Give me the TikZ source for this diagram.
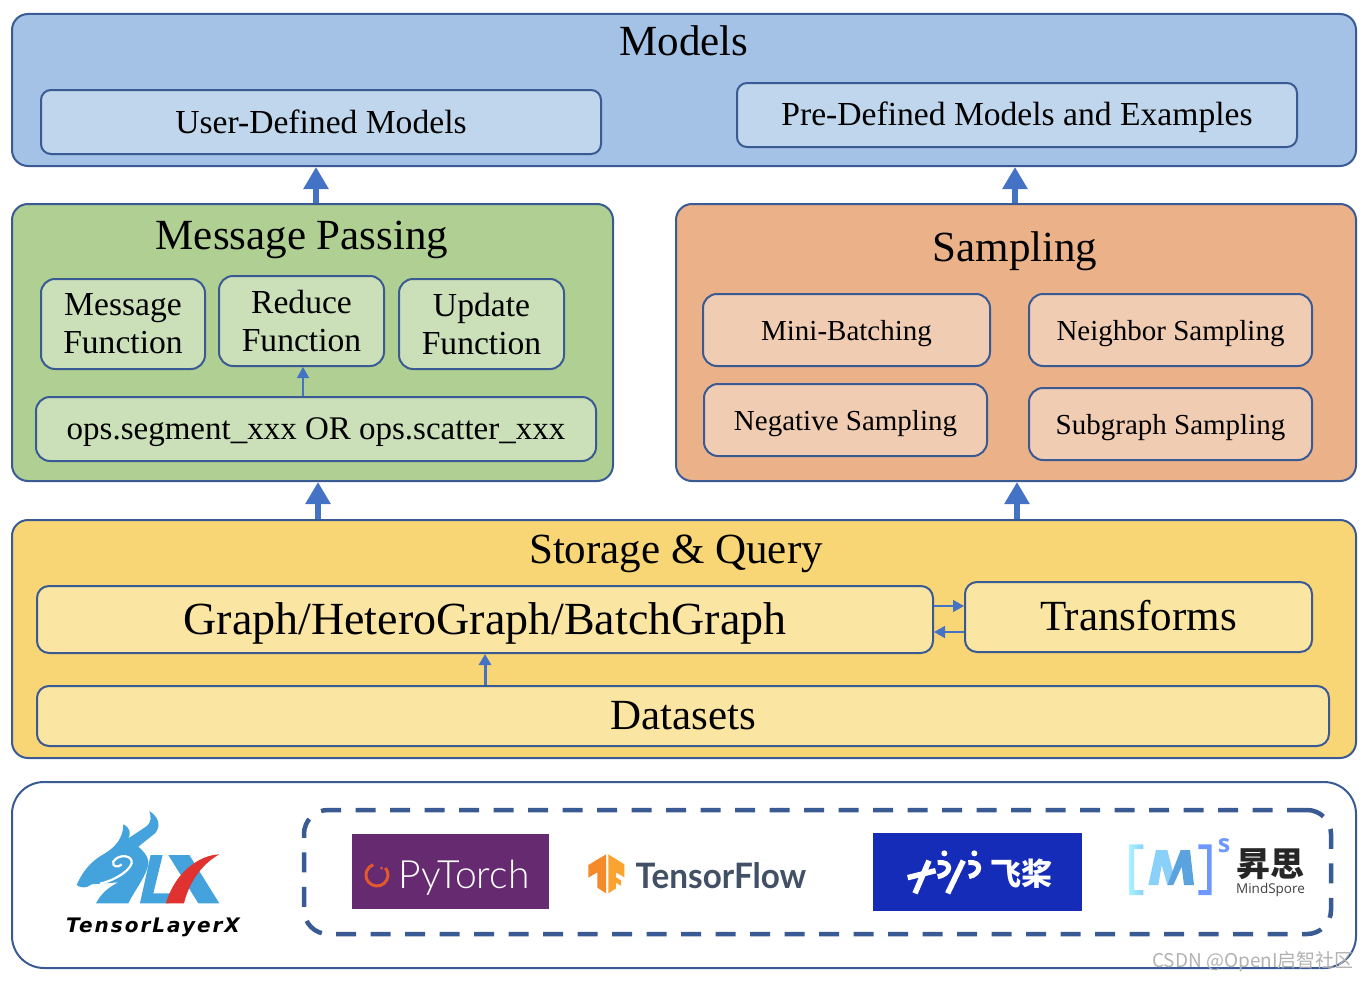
\documentclass[tikz,border=0pt]{standalone}
\usepackage{fontspec}
\setmainfont{Liberation Serif}
\newfontfamily\cjk{Noto Sans CJK SC}
\newfontfamily\tfont[FakeStretch=0.95]{Lato}
\newfontfamily\ptfont{Lato Light}
\newfontfamily\msfont{Open Sans}
\newfontfamily\tlxfont[LetterSpace=10]{DejaVu Sans}
\usetikzlibrary{arrows.meta,shapes.geometric}
\definecolor{edge_c}{HTML}{3A5A94}
\definecolor{arrow_c}{HTML}{4472C4}
\tikzset{
	treebox/.style = {draw=edge_c, line width=2pt, rounded corners=#1, inner sep=0pt, align=center},
	treebox/.default = 10pt,
	big_txt/.style = {font=\fontsize{43}{46}\selectfont, inner sep=0pt},
	mid_txt/.style = {font=\fontsize{33.6}{38}\selectfont},
	small_txt/.style = {font=\fontsize{29}{32}\selectfont, text depth=0pt},
	blue_o/.style = {treebox=16pt, fill=blue_a},% outer models
	blue_i/.style = {treebox, fill=blue_b, mid_txt},
	green_i/.style = {treebox=14pt, fill=green_b, mid_txt},
	orange_i/.style = {treebox=14pt, fill=orange_b, small_txt},
	yellow_i/.style = {treebox=12pt, fill=yellow_b},
	block_arrow/.style = {draw=arrow_c, line width=6pt, -{Triangle[width=24pt,length=22pt,fill=arrow_c]}},
	thin_arrow/.style = {draw=arrow_c, line width=1.4pt, -{Triangle[width=12pt,length=11pt,fill=arrow_c]}}
}
\definecolor{blue_a}{HTML}{A4C2E6}
\definecolor{blue_b}{HTML}{BFD6EC}
\definecolor{green_a}{HTML}{B0CF92}
\definecolor{green_b}{HTML}{CBE0B9}
\definecolor{orange_a}{HTML}{EBB28A}
\definecolor{orange_b}{HTML}{F0CCB2}
\definecolor{yellow_a}{HTML}{F9D675}
\definecolor{yellow_b}{HTML}{FAE5A2}
\definecolor{tlx_b}{HTML}{44A2DC}
\definecolor{tlx_r}{HTML}{E0332F}
\definecolor{torch_c}{HTML}{662A70}
\definecolor{torch_o}{HTML}{E2592C}
\definecolor{tf_a}{HTML}{F58A2A}
\definecolor{tf_b}{HTML}{FBA331}
\definecolor{tf_c}{HTML}{425066}
\definecolor{paddle_c}{HTML}{142CB8}
\definecolor{ms_a}{HTML}{A9F2FF}
\definecolor{ms_b}{HTML}{8BD0FA}
\definecolor{ms_c}{HTML}{6F98FF}
\definecolor{ms_e}{HTML}{5BA3DF}
\begin{document}
\begin{tikzpicture}[x=1pt,y=-1pt]
	\useasboundingbox (0,0) rectangle (1370,982);
	% models
	\node [blue_o, minimum width=1344, minimum height=152] (models) at (684,90) {};
	\node [big_txt] (models_t) at (684,41) {Models};
	\node [blue_i, minimum width=560, minimum height=64] (user) at (321,122) {User-Defined Models};
	\node [blue_i, text depth=3pt, minimum width=560, minimum height=64] (pre) at (1017,115) {Pre-Defined Models and Examples};
	% message passing
	\node [treebox=16pt, fill=green_a, minimum width=601, minimum height=277] (mp) at (312.5,342.5) {};
	\node [big_txt] (mp_t) at (302,240) {Message Passing};
	\node [green_i, minimum width=164, minimum height=90] (msg) at (123,324) {Message\\Function};
	\node [green_i, minimum width=165, minimum height=90] (red) at (301.5,321) {Reduce\\Function};
	\node [green_i, minimum width=165, minimum height=90] (upd) at (481.5,324) {Update\\Function};
	\node [green_i, font=\fontsize{33}{38}\selectfont, text depth=1pt, minimum width=560, minimum height=64] (ops) at (316,429) {ops.segment\_xxx OR ops.scatter\_xxx};
	% sampling
	\node [treebox=16pt, fill=orange_a, minimum width=680, minimum height=277] (samp) at (1016,342.5) {};
	\node [big_txt] (samp_t) at (1015,251) {Sampling};
	\node [orange_i, minimum width=287, minimum height=72] (mini) at (846.5,330) {Mini-Batching};
	\node [orange_i, minimum width=283, minimum height=72] (neigh) at (1170.5,330) {Neighbor Sampling};
	\node [orange_i, minimum width=283, minimum height=72] (neg) at (845.5,420) {Negative Sampling};
	\node [orange_i, minimum width=283, minimum height=72] (sub) at (1170.5,424) {Subgraph Sampling};
	% storage
	\node [treebox=16pt, fill=yellow_a, minimum width=1344, minimum height=238] (store) at (684,639) {};
	\node [big_txt] (store_t) at (676,554) {Storage \& Query};
	\node [yellow_i, big_txt, font=\fontsize{46}{48}\selectfont, text depth=2pt, minimum width=896, minimum height=67] (graph) at (485,619.5) {Graph/HeteroGraph/BatchGraph};
	\node [yellow_i, big_txt, text depth=4pt, minimum width=347, minimum height=70] (trans) at (1138.5,617) {Transforms};
	\node [yellow_i, big_txt, minimum width=1292, minimum height=60] (data) at (683,716) {Datasets};
	% connectors
	\coordinate (a1) at (316,0);
	\coordinate (a2) at (1015,0);
	\coordinate (a3) at (318,0);
	\coordinate (a4) at (1017,0);
	\coordinate (a5) at (303,0);
	\coordinate (a6) at (485,0);
	\coordinate (a7) at (0,606);
	\coordinate (a8) at (0,632);
	\draw [block_arrow] (mp.north -| a1) -- (models.south -| a1);
	\draw [block_arrow] (samp.north -| a2) -- (models.south -| a2);
	\draw [block_arrow] (store.north -| a3) -- (mp.south -| a3);
	\draw [block_arrow] (store.north -| a4) -- (samp.south -| a4);
	\draw [thin_arrow] (ops.north -| a5) -- (red.south -| a5);
	\draw [thin_arrow, line width=3pt] (data.north -| a6) -- (graph.south -| a6);
	\draw [thin_arrow] (graph.east |- a7) -- (trans.west |- a7);
	\draw [thin_arrow] (trans.west |- a8) -- (graph.east |- a8);
	% backends
	\node [treebox=32pt, fill=white, minimum width=1344, minimum height=186] (back) at (684,875) {};
	\node [draw=edge_c, line width=4.5pt, dash pattern=on 20pt off 14.5pt, rounded corners=24pt, minimum width=1027, minimum height=124, inner sep=0pt] (dash) at (817.5,872) {};
	% tensorlayerx logo
	\begin{scope}[shift={(60,805)},scale=0.3333]
		\fill [tlx_b] (50,240) .. controls (65,205) and (90,170) .. (130,148) .. controls (165,128) and (190,100) .. (190,58) .. controls (210,68) and (214,85) .. (205,100) -- (258,65) .. controls (275,52) and (274,35) .. (268,18) .. controls (295,35) and (305,62) .. (285,85) -- (235,125) .. controls (258,145) and (272,165) .. (262,190) .. controls (250,225) and (222,260) .. (205,295) -- (108,295) .. controls (125,262) and (150,245) .. (175,232) -- (95,238) .. controls (80,250) and (62,250) .. (50,240) -- cycle;
		\draw [white, line width=2.2pt] (120,236) .. controls (150,230) and (205,205) .. (215,175) .. controls (220,150) and (175,145) .. (160,170) .. controls (155,185) and (175,190) .. (185,178);
		\fill [tlx_b] (272,150) -- (308,150) -- (280,265) -- (335,265) -- (328,295) -- (240,295) -- cycle;
		\fill [tlx_b] (325,150) -- (388,150) -- (478,295) -- (415,295) -- cycle;
		\fill [tlx_r] (478,148) .. controls (420,150) and (345,200) .. (318,295) -- (372,295) .. controls (385,240) and (420,180) .. (478,148) -- cycle;
	\end{scope}
	\node [font=\tlxfont\bfseries\itshape\fontsize{20}{22}\selectfont, inner sep=0pt] (tlx) at (153,927) {TensorLayerX};
	% pytorch logo
	\node [fill=torch_c, minimum width=197, minimum height=75, inner sep=0pt] (torch) at (450.5,871.5) {};
	\draw [torch_o, line width=3pt] (385.4,867.9) arc (-40:250:11);
	\fill [torch_o] (381.5,868) circle (1.5);
	\node [font=\ptfont\fontsize{39}{42}\selectfont, text=white, inner sep=0pt] (torch_t) at (464,878) {PyTorch};
	% tensorflow logo
	\begin{scope}[shift={(580,845)},scale=0.3333]
		\fill [tf_a] (25,60) -- (78,28) -- (78,145) -- (52,128) -- (52,82) -- (25,98) -- cycle;
		\fill [tf_b] (85,28) -- (133,58) -- (133,97) -- (108,82) -- (108,97) -- (123,106) -- (123,122) -- (108,113) -- (108,130) -- (85,145) -- cycle;
	\end{scope}
	\node [font=\tfont\bfseries\fontsize{35}{38}\selectfont, text=tf_c, inner sep=0pt] (tf_t) at (721,876) {TensorFlow};
	% paddle logo
	\node [fill=paddle_c, minimum width=209, minimum height=78, inner sep=0pt] (paddle) at (977.5,872) {};
	\begin{scope}[shift={(895,840)},scale=0.3333]
		\draw [white, line width=5.5pt] (38,113) -- (122,92) (102,62) -- (60,160) (205,62) -- (158,160);
		\draw [white, line width=5pt] (128,68) .. controls (172,62) and (172,102) .. (128,110);
		\draw [white, line width=5pt] (220,68) .. controls (262,62) and (260,102) .. (222,110);
		\fill [white] (148,40) circle (9) (238,40) circle (9);
	\end{scope}
	\node [font=\cjk\bfseries\fontsize{31}{33}\selectfont, text=white, inner sep=0pt] (paddle_t) at (1021,874) {飞桨};
	% mindspore logo
	\begin{scope}[shift={(1120,835)},scale=0.3333]
		\shade [left color=ms_a, right color=ms_b] (28,28) -- (70,28) -- (70,42) -- (42,42) -- (42,165) -- (70,165) -- (70,180) -- (28,180) -- cycle;
		\fill [ms_c] (235,28) -- (275,28) -- (275,180) -- (235,180) -- (235,165) -- (261,165) -- (261,42) -- (235,42) -- cycle;
		\fill [ms_b] (85,150) -- (108,45) -- (142,45) -- (160,115) -- (142,150) -- (125,90) -- (115,150) -- cycle;
		\fill [ms_e] (142,150) -- (182,45) -- (210,45) -- (222,150) -- (192,150) -- (185,95) -- (160,150) -- cycle;
	\end{scope}
	\node [font=\msfont\bfseries\fontsize{25}{26}\selectfont, text=ms_c, inner sep=0pt] (ms_s) at (1224,846) {s};
	\node [font=\cjk\bfseries\fontsize{34}{35}\selectfont, inner sep=0pt, text=black!85] (ms_t) at (1270.5,864) {昇思};
	\node [font=\msfont\fontsize{13.5}{15}\selectfont, inner sep=0pt, text=black!75] (ms_n) at (1270.5,890) {MindSpore};
	% watermark
	\node [font=\cjk\fontsize{19}{21}\selectfont, text=black!30, inner sep=0pt] (mark) at (1253,962) {CSDN @OpenI启智社区};
\end{tikzpicture}
\end{document}
